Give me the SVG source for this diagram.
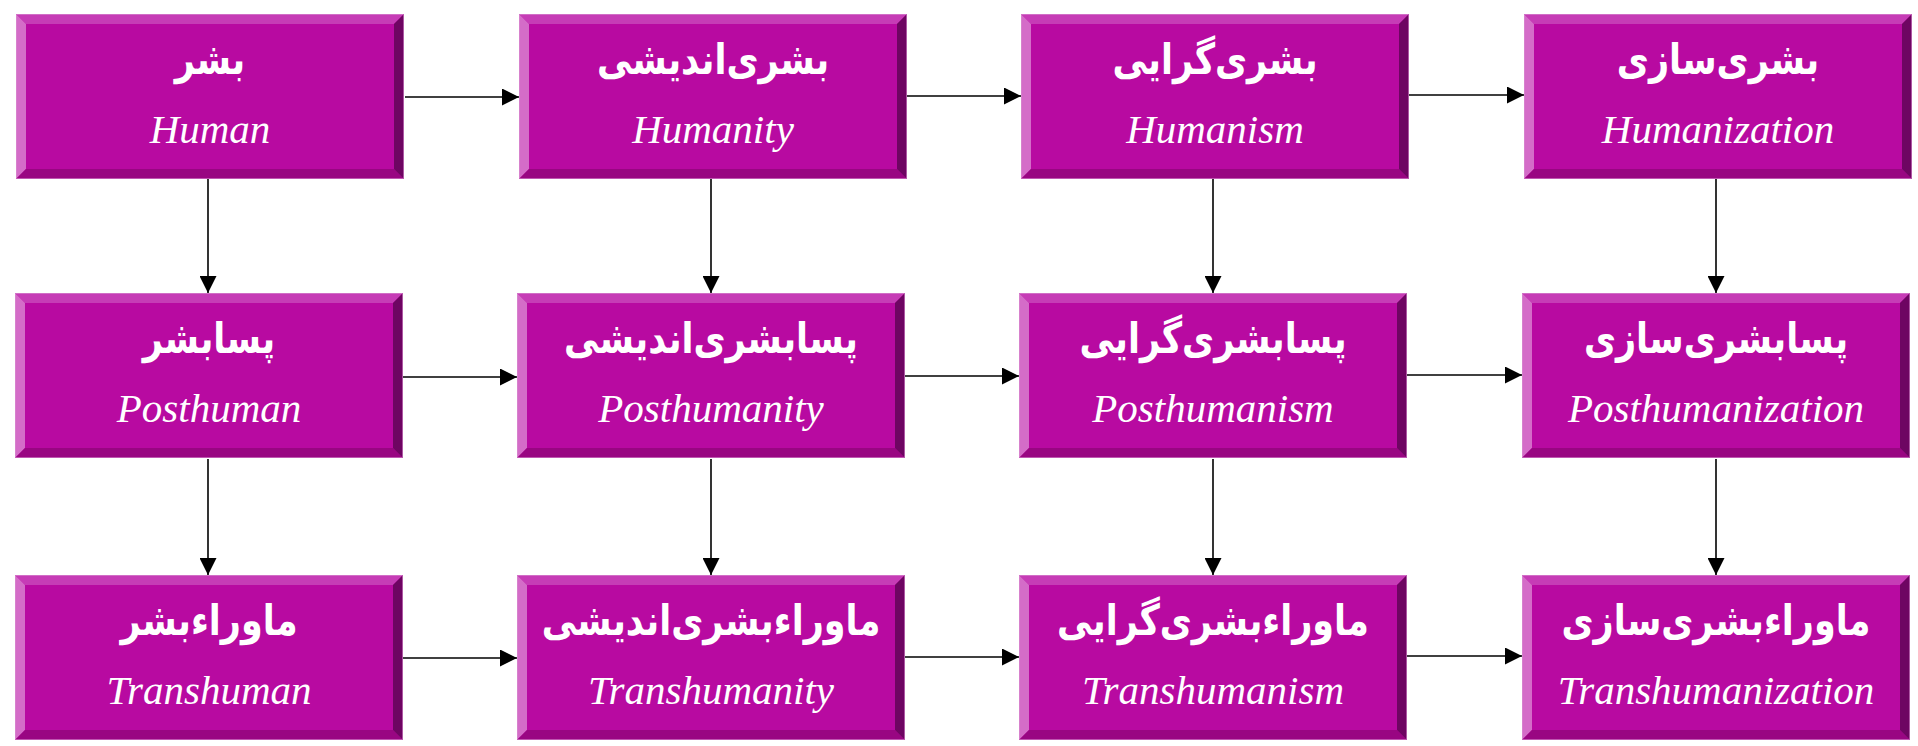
<svg xmlns="http://www.w3.org/2000/svg" xmlns:xlink="http://www.w3.org/1999/xlink" width="1918" height="746" viewBox="0 0 1918 746">
<style>
.fa{font-family:"DejaVu Sans",sans-serif;font-weight:bold;font-size:35px;fill:#ffffff;text-anchor:middle;direction:rtl;unicode-bidi:embed}
.en{font-family:"Liberation Serif","Times New Roman",serif;font-style:italic;font-size:41px;fill:#ffffff;text-anchor:middle}
.conn line{stroke:#000;stroke-width:1.6;fill:none}
</style>
<defs>
<marker id="ah" markerUnits="userSpaceOnUse" markerWidth="17" markerHeight="17" refX="17" refY="8.5" orient="auto" viewBox="0 0 17 17">
<path d="M0,0 L17,8.5 L0,17 Z" fill="#000"/>
</marker>
<g id="box">
<rect x="0" y="0" width="388" height="165" fill="#b80aa1"/>
<polygon points="0,0 388,0 378,10 10,10" fill="#c63cb6"/>
<polygon points="0,0 10,10 10,155 0,165" fill="#d46cc8"/>
<polygon points="0,165 10,155 378,155 388,165" fill="#990682"/>
<polygon points="388,0 388,165 378,155 378,10" fill="#6e0562"/>
<rect x="0.5" y="0.5" width="387" height="164" fill="none" stroke="#d98fd0" stroke-width="1" stroke-opacity="0.6"/>
</g>
</defs>
<rect width="1918" height="746" fill="#ffffff"/>
<g id="connectors" class="conn">
<line x1="405" y1="97" x2="519" y2="97" marker-end="url(#ah)"/>
<line x1="907" y1="96" x2="1021" y2="96" marker-end="url(#ah)"/>
<line x1="1409" y1="95" x2="1524" y2="95" marker-end="url(#ah)"/>
<line x1="403" y1="377" x2="517" y2="377" marker-end="url(#ah)"/>
<line x1="905" y1="376" x2="1019" y2="376" marker-end="url(#ah)"/>
<line x1="1407" y1="375" x2="1522" y2="375" marker-end="url(#ah)"/>
<line x1="403" y1="658" x2="517" y2="658" marker-end="url(#ah)"/>
<line x1="905" y1="657" x2="1019" y2="657" marker-end="url(#ah)"/>
<line x1="1407" y1="656" x2="1522" y2="656" marker-end="url(#ah)"/>
<line x1="208" y1="179" x2="208" y2="293" marker-end="url(#ah)"/>
<line x1="711" y1="179" x2="711" y2="293" marker-end="url(#ah)"/>
<line x1="1213" y1="179" x2="1213" y2="293" marker-end="url(#ah)"/>
<line x1="1716" y1="179" x2="1716" y2="293" marker-end="url(#ah)"/>
<line x1="208" y1="459" x2="208" y2="575" marker-end="url(#ah)"/>
<line x1="711" y1="459" x2="711" y2="575" marker-end="url(#ah)"/>
<line x1="1213" y1="459" x2="1213" y2="575" marker-end="url(#ah)"/>
<line x1="1716" y1="459" x2="1716" y2="575" marker-end="url(#ah)"/>
</g>
<g id="n-human" transform="translate(16,14)"><use xlink:href="#box"/><text class="fa" transform="translate(194,60) scale(1,1.22)">بشر</text><text class="en" x="194" y="129">Human</text></g>
<g id="n-humanity" transform="translate(519,14)"><use xlink:href="#box"/><text class="fa" transform="translate(194,60) scale(1,1.22)">بشری‌اندیشی</text><text class="en" x="194" y="129">Humanity</text></g>
<g id="n-humanism" transform="translate(1021,14)"><use xlink:href="#box"/><text class="fa" transform="translate(194,60) scale(1,1.22)">بشری‌گرایی</text><text class="en" x="194" y="129">Humanism</text></g>
<g id="n-humanization" transform="translate(1524,14)"><use xlink:href="#box"/><text class="fa" transform="translate(194,60) scale(1,1.22)">بشری‌سازی</text><text class="en" x="194" y="129">Humanization</text></g>
<g id="n-posthuman" transform="translate(15,293)"><use xlink:href="#box"/><text class="fa" transform="translate(194,60) scale(1,1.22)">پسابشر</text><text class="en" x="194" y="129">Posthuman</text></g>
<g id="n-posthumanity" transform="translate(517,293)"><use xlink:href="#box"/><text class="fa" transform="translate(194,60) scale(1,1.22)">پسابشری‌اندیشی</text><text class="en" x="194" y="129">Posthumanity</text></g>
<g id="n-posthumanism" transform="translate(1019,293)"><use xlink:href="#box"/><text class="fa" transform="translate(194,60) scale(1,1.22)">پسابشری‌گرایی</text><text class="en" x="194" y="129">Posthumanism</text></g>
<g id="n-posthumanization" transform="translate(1522,293)"><use xlink:href="#box"/><text class="fa" transform="translate(194,60) scale(1,1.22)">پسابشری‌سازی</text><text class="en" x="194" y="129">Posthumanization</text></g>
<g id="n-transhuman" transform="translate(15,575)"><use xlink:href="#box"/><text class="fa" transform="translate(194,60) scale(1,1.22)">ماوراءبشر</text><text class="en" x="194" y="129">Transhuman</text></g>
<g id="n-transhumanity" transform="translate(517,575)"><use xlink:href="#box"/><text class="fa" transform="translate(194,60) scale(1,1.22)">ماوراءبشری‌اندیشی</text><text class="en" x="194" y="129">Transhumanity</text></g>
<g id="n-transhumanism" transform="translate(1019,575)"><use xlink:href="#box"/><text class="fa" transform="translate(194,60) scale(1,1.22)">ماوراءبشری‌گرایی</text><text class="en" x="194" y="129">Transhumanism</text></g>
<g id="n-transhumanization" transform="translate(1522,575)"><use xlink:href="#box"/><text class="fa" transform="translate(194,60) scale(1,1.22)">ماوراءبشری‌سازی</text><text class="en" x="194" y="129">Transhumanization</text></g>
</svg>
